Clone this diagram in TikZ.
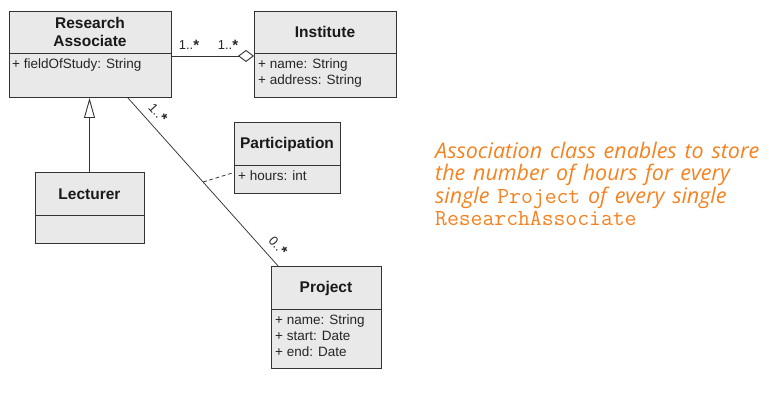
\documentclass[tikz,border=0pt]{standalone}
\usepackage{fontspec}
\setmainfont{Liberation Sans}
\newfontfamily\notefont[WordSpace=1.4]{Open Sans}
\usetikzlibrary{calc,arrows.meta}
\definecolor{boxfill}{HTML}{E9E9E9}
\definecolor{boxline}{HTML}{333333}
\definecolor{noteorange}{HTML}{F5821F}
\tikzset{
  classbox/.style={draw=boxline, line width=1pt, fill=boxfill, anchor=north west, inner sep=0pt, outer sep=0pt},
  title/.style={font=\fontsize{15.5}{18}\selectfont\bfseries, align=center, inner sep=0pt, text=black!90},
  attrs/.style={font=\fontsize{13.5}{16}\selectfont, align=left, anchor=north west, inner sep=0pt, text=black!85},
  mult/.style={font=\fontsize{13}{14}\selectfont, inner sep=0pt, text=black!85},
  conn/.style={draw=boxline, line width=0.9pt},
}
\newcommand{\multstar}{\raisebox{-0.5pt}{\fontsize{15}{15}\selectfont\bfseries *}}
\begin{document}
\begin{tikzpicture}[x=1pt,y=-1pt]
\useasboundingbox (0,0) rectangle (769,395);
% Research Associate
\node[classbox, minimum width=162pt, minimum height=86pt] (ra) at (9,12) {};
\draw[conn] (9,53) -- (171,53);
\node[title] (rat) at (90,32) {Research\\Associate};
\node[attrs] (raa) at (12,59) {+ fieldOfStudy: String};
% Institute
\node[classbox, minimum width=142pt, minimum height=86pt] (inst) at (254,12) {};
\draw[conn] (254,53) -- (396,53);
\node[title] (instt) at (325,32) {Institute};
\node[attrs] (insta) at (258,59) {+ name: String\\+ address: String};
% Lecturer
\node[classbox, minimum width=109pt, minimum height=71pt] (lect) at (35,173) {};
\draw[conn] (35,215) -- (144,215);
\node[title] (lectt) at (89.5,194) {Lecturer};
% Participation
\node[classbox, minimum width=106pt, minimum height=71pt] (part) at (234,123) {};
\draw[conn] (234,165) -- (340,165);
\node[title] (partt) at (287,144) {Participation};
\node[attrs] (parta) at (238,171) {+ hours: int};
% Project
\node[classbox, minimum width=110pt, minimum height=102pt] (proj) at (271,267) {};
\draw[conn] (271,309) -- (381,309);
\node[title] (projt) at (326,288) {Project};
\node[attrs] (proja) at (275,315) {+ name: String\\+ start: Date\\+ end: Date};
% aggregation
\draw[conn, {Diamond[open, length=16pt, width=12pt, line width=0.9pt, fill=white]}-] ($(inst.north west)!0.5!(inst.south west)+(0,1)$) coordinate (aggI) -- (aggI -| ra.east);
\node[mult] (m1) at (189,45) {1..\multstar};
\node[mult] (m2) at (228,45) {1..\multstar};
% generalization
\draw[conn, -{Triangle[open, length=20pt, width=11pt, line width=0.9pt, fill=white]}] (lect.north) -- (lect.north |- ra.south);
% association
\coordinate (asA) at ($(ra.south west)+(119,0)$);
\coordinate (asB) at ($(proj.north west)+(8,0)$);
\draw[conn, line width=0.75pt] (asA) -- (asB);
\node[mult, rotate=-48] (m3) at (158,113) {1..\multstar};
\node[mult, rotate=-48] (m4) at (278,246) {0..\multstar};
\coordinate (asM) at ($(asA)!0.497!(asB)$);
\draw[conn, dashed, dash pattern=on 4pt off 2.5pt, line width=0.75pt] (asM) -- ($(part.west)+(0,14)$);
% note
\node[font=\notefont\itshape\fontsize{21.5}{22.3}\selectfont, text=noteorange, align=left, anchor=north west, inner sep=0pt] (note) at (435,142)
 {Association class enables to store\\the number of hours for every\\single {\ttfamily\upshape\fontsize{23}{22}\selectfont Project} of every single\\{\ttfamily\upshape\fontsize{23}{22}\selectfont ResearchAssociate}};
\end{tikzpicture}
\end{document}
